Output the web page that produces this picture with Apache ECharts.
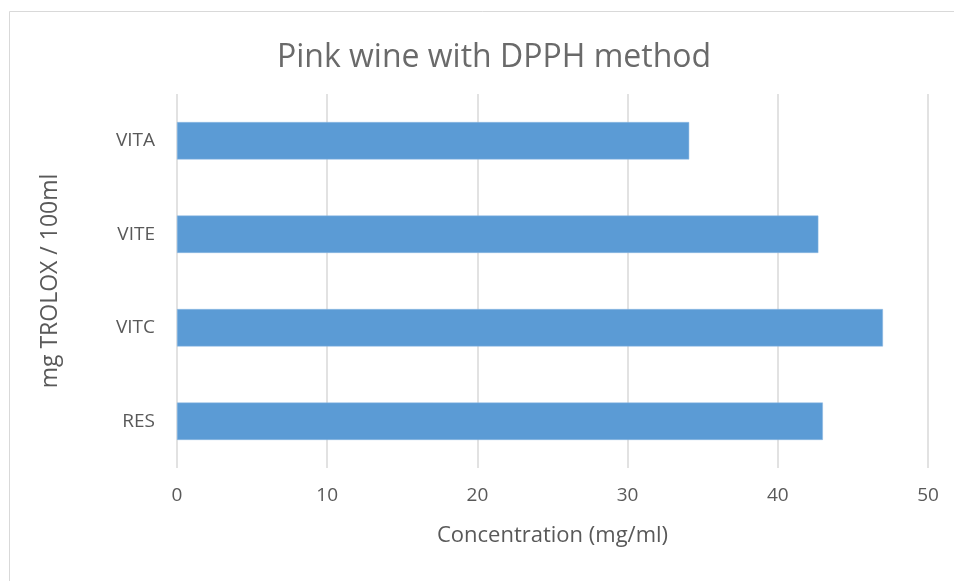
<!DOCTYPE html>
<html>
<head>
<meta charset="utf-8">
<script src="https://cdn.jsdelivr.net/npm/echarts@6/dist/echarts.min.js"></script>
<style>
  html, body { margin: 0; padding: 0; background: #fff; }
  #chart1 { width: 954px; height: 581px; }
</style>
</head>
<body>
<div id="chart1"></div>
<script>
// bottom to top, as the category axis draws them
var categories = ['RES', 'VITC', 'VITE', 'VITA'];
var values = [43.0, 47.0, 42.7, 34.1];
var xTicks = [0, 10, 20, 30, 40, 50];

var chartDom = document.getElementById('chart1');
var myChart = echarts.init(chartDom);
var option;
var textGray = '#595959';
var fontName = '"Open Sans", "Noto Sans", sans-serif';

option = {
  animation: false,
  textStyle: { fontFamily: fontName },
  title: {
    text: 'Pink wine with DPPH method',
    left: 489,
    textAlign: 'center',
    top: 37,
    textStyle: { color: '#6a6a6a', fontSize: 32, fontWeight: 'normal', fontFamily: fontName }
  },
  graphic: [
    {
      type: 'rect',
      shape: { x: 9.5, y: 11.5, width: 960, height: 590 },
      style: { fill: 'none', stroke: '#d9d9d9', lineWidth: 1 },
      silent: true
    }
  ],
  grid: {
    left: 177,
    right: 26,
    top: 94,
    bottom: 113,
    containLabel: false
  },
  xAxis: {
    type: 'value',
    min: xTicks[0],
    max: xTicks[xTicks.length - 1],
    interval: 10,
    name: 'Concentration (mg/ml)',
    nameLocation: 'middle',
    nameGap: 57,
    nameTextStyle: { color: textGray, fontSize: 22 },
    axisLine: { show: false },
    axisTick: { show: false },
    axisLabel: { color: textGray, fontSize: 19, margin: 18 },
    splitLine: { show: true, lineStyle: { color: '#d9d9d9', width: 1.5 } }
  },
  yAxis: {
    type: 'category',
    data: categories,
    name: 'mg TROLOX / 100ml',
    nameLocation: 'middle',
    nameGap: 115,
    nameRotate: 90,
    nameTextStyle: { color: textGray, fontSize: 23 },
    axisLine: { show: false },
    axisTick: { show: false },
    axisLabel: { color: textGray, fontSize: 19, margin: 22 }
  },
  series: [
    {
      type: 'bar',
      data: values,
      barWidth: '40%',
      itemStyle: { color: '#5b9bd5', borderColor: '#8db8e2', borderWidth: 0.5 }
    }
  ]
};

option && myChart.setOption(option);
</script>
</body>
</html>
